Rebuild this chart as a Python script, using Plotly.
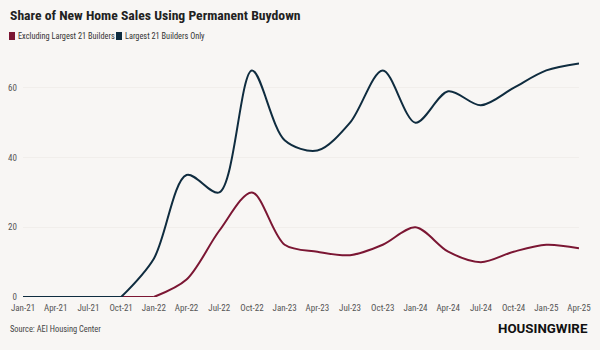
import plotly.graph_objects as go

quarters = ["Jan-21", "Apr-21", "Jul-21", "Oct-21", "Jan-22", "Apr-22", "Jul-22", "Oct-22",
            "Jan-23", "Apr-23", "Jul-23", "Oct-23", "Jan-24", "Apr-24", "Jul-24", "Oct-24",
            "Jan-25", "Apr-25"]
excluding_top21 = [None, None, None, 0, 0, 5, 19, 30, 15, 13, 12, 15, 20, 13, 10, 13, 15, 14]
top21_only = [0, 0, 0, 0, 11, 35, 30, 65, 45, 42, 50, 65, 50, 59, 55, 60, 65, 67]
y_ticks = [0, 20, 40, 60]
series_names = ["Excluding Largest 21 Builders", "Largest 21 Builders Only"]

RED = "#7b1633"
NAVY = "#0f2c3f"
BG = "#f8f6f4"
COND = "Roboto Condensed, Roboto"

W, H = 600, 350
L, R, T, B = 23, 21, 53, 53
PW, PH = W - L - R, H - T - B


def px(x):
    return (x - L) / PW


def py(y):
    return 1 - (y - T) / PH


fig = go.Figure()


def add_line(ys, color, flat_until):
    # flat zero run drawn straight, remainder smoothed
    fig.add_trace(go.Scatter(x=quarters[:flat_until + 1], y=ys[:flat_until + 1], mode="lines",
                             line=dict(color=color, width=2), showlegend=False,
                             hoverinfo="skip"))
    fig.add_trace(go.Scatter(x=quarters[flat_until:], y=ys[flat_until:], mode="lines",
                             line=dict(color=color, width=2, shape="spline", smoothing=0.9),
                             showlegend=False, hoverinfo="skip"))


add_line(excluding_top21, RED, 4)
add_line(top21_only, NAVY, 3)

fig.update_layout(
    width=W, height=H,
    paper_bgcolor=BG, plot_bgcolor=BG,
    margin=dict(l=L, r=R, t=T, b=B, autoexpand=False),
    font=dict(family=COND, size=8.5, color="#555"),
    showlegend=False,
    xaxis=dict(type="category", range=[0, 17], showgrid=False, zeroline=False,
               showline=False, ticks="", tickfont=dict(size=9, color="#555", family=COND),
               tickangle=0, ticklabelstandoff=4, fixedrange=True),
    yaxis=dict(range=[0, 70], tickvals=y_ticks, showgrid=True, gridcolor="#f1eeeb",
               zeroline=False, showline=False, ticks="",
               tickfont=dict(size=9, color="#555", family=COND),
               ticklabelstandoff=5, fixedrange=True),
)

shapes = []
annotations = [
    dict(text="<b>Share of New Home Sales Using Permanent Buydown</b>", x=px(8), y=py(15),
         xanchor="left", yanchor="middle",
         font=dict(size=13.7, color="#222", family=COND)),
    dict(text="Source: AEI Housing Center", x=px(8), y=py(329),
         xanchor="left", yanchor="middle", font=dict(size=8.4, color="#444", family=COND)),
    dict(text="<b>HOUSINGWIRE</b>", x=px(590), y=py(328),
         xanchor="right", yanchor="middle",
         font=dict(size=13.3, color="#111", family="Roboto", weight=900)),
]
legend_x = [9, 116]
for name, col, lx in zip(series_names, [RED, NAVY], legend_x):
    shapes.append(dict(type="rect", xref="paper", yref="paper",
                       x0=px(lx), x1=px(lx + 6), y0=py(32), y1=py(40),
                       fillcolor=col, line=dict(width=0)))
    annotations.append(dict(text=name, x=px(lx + 7), y=py(36), xanchor="left",
                            yanchor="middle", font=dict(size=8.3, color="#333", family=COND)))
for a in annotations:
    a.update(xref="paper", yref="paper", showarrow=False)
fig.update_layout(shapes=shapes, annotations=annotations)

fig.write_html("out.html")
